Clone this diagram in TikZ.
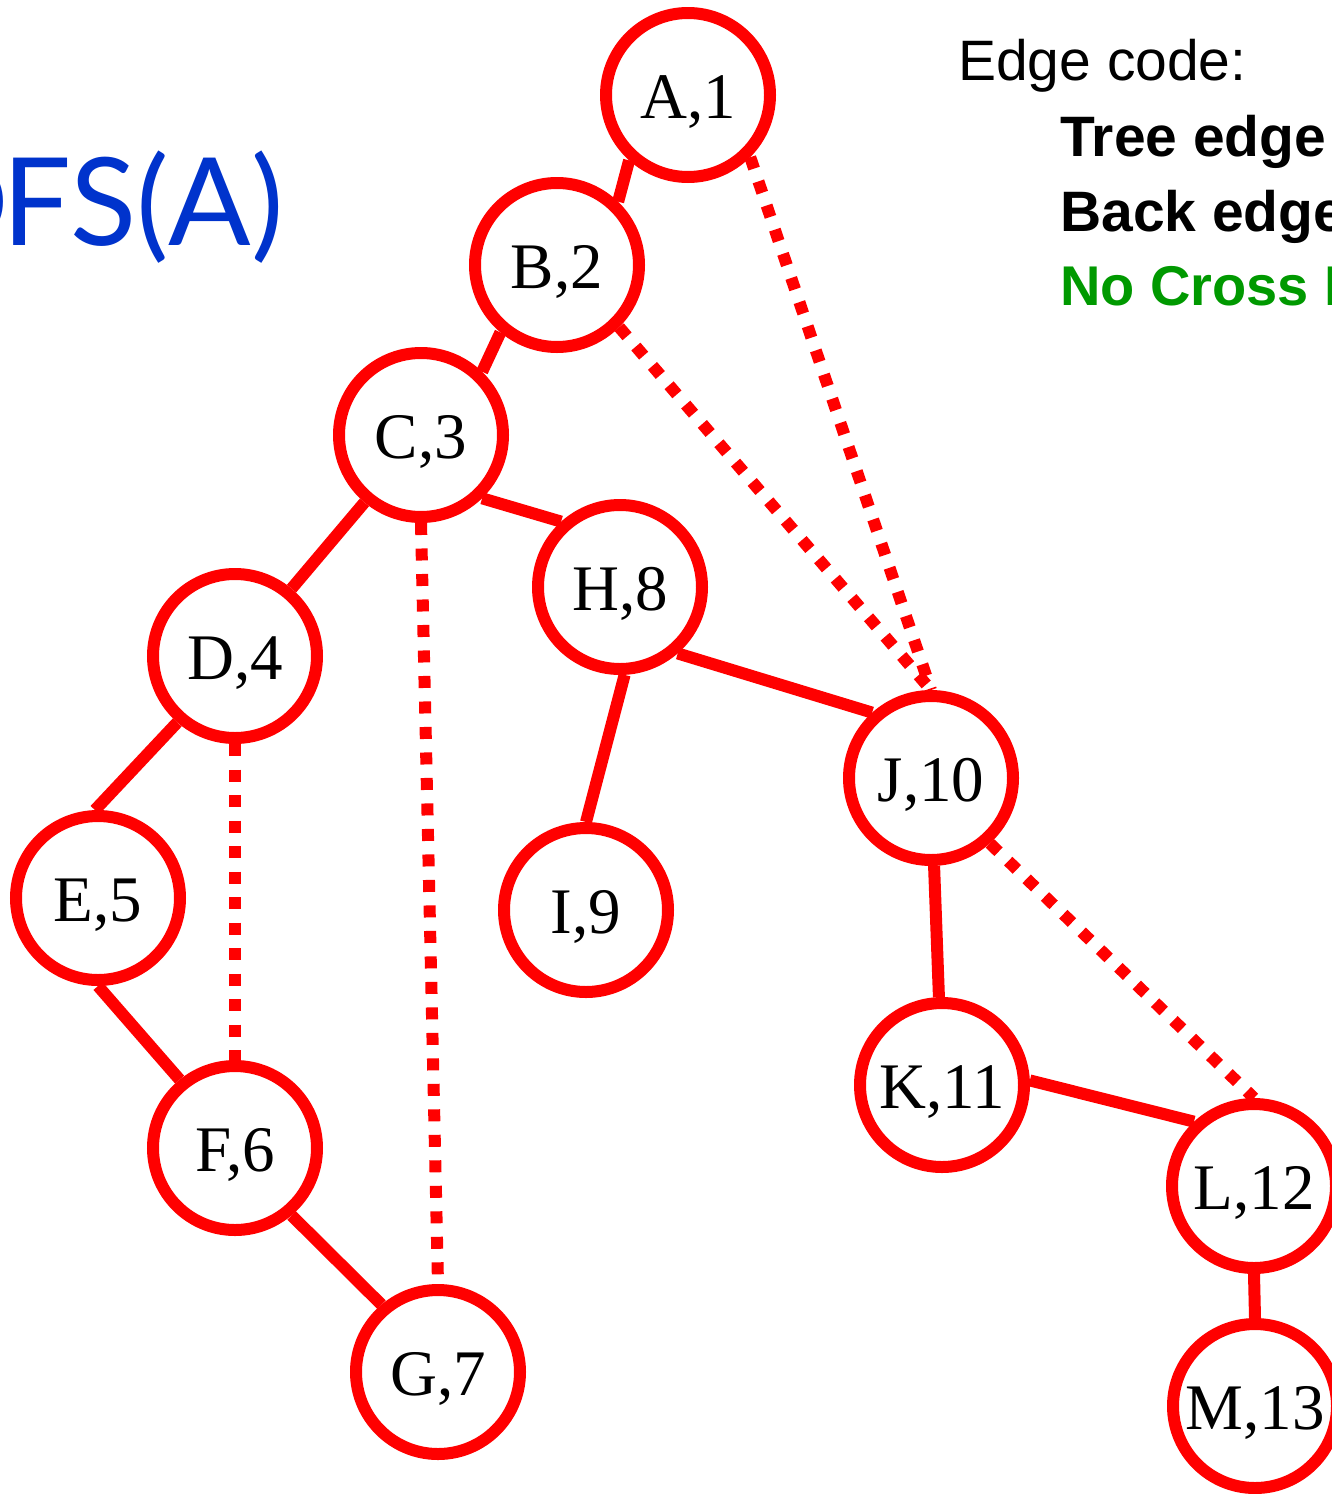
\documentclass[tikz,border=0pt]{standalone}
\usepackage{fontspec}
\setmainfont{Liberation Serif}
\newfontfamily\legendfont{Liberation Sans}
\newfontfamily\titlefont{Lato}
\definecolor{nodered}{RGB}{255,0,0}
\definecolor{titleblue}{RGB}{0,51,204}
\definecolor{legendgreen}{RGB}{0,153,0}
\begin{document}
\begin{tikzpicture}[x=1pt,y=-1pt,
  vtx/.style={circle,draw=nodered,line width=12pt,fill=white,inner sep=0pt,
    minimum size=164pt,text height=46pt,text depth=0pt,font=\fontsize{65}{65}\selectfont},
  treeedge/.style={draw=nodered,line width=12pt},
  backedge/.style={draw=nodered,line width=12pt,dash pattern=on 12pt off 13.5pt}]
\useasboundingbox[fill=white] (0,0) rectangle (1332,1494);
% title and legend
\node[anchor=base east,text=titleblue,font=\titlefont\fontsize{122}{122}\selectfont,inner sep=0pt] (title) at (284,245) {D\kern-6pt FS(A)};
\node[anchor=base west,inner sep=0pt,font=\legendfont\fontsize{57}{57}\selectfont] (lg0) at (958,80) {Edge code:};
\node[anchor=base west,inner sep=0pt,font=\legendfont\bfseries\fontsize{57}{57}\selectfont] (lg1) at (1060,156) {Tree edge};
\node[anchor=base west,inner sep=0pt,font=\legendfont\bfseries\fontsize{57}{57}\selectfont] (lg2) at (1060,231) {Back edge};
\node[anchor=base west,inner sep=0pt,text=legendgreen,font=\legendfont\bfseries\fontsize{56}{56}\selectfont] (lg3) at (1060,305) {No Cross Edges};
% node positions
\coordinate (pA) at (688,95);
\coordinate (pB) at (557,265);
\coordinate (pC) at (421,435);
\coordinate (pD) at (235,656);
\coordinate (pE) at (98,898);
\coordinate (pF) at (235,1148);
\coordinate (pG) at (438,1372);
\coordinate (pH) at (620,587);
\coordinate (pI) at (586,910);
\coordinate (pJ) at (931,778);
\coordinate (pK) at (942,1085);
\coordinate (pL) at (1254,1186);
\coordinate (pM) at (1255,1406);
% nodes
\node[vtx] (A) at (pA) {A,1};
\node[vtx] (B) at (pB) {B,2};
\node[vtx] (C) at (pC) {C,3};
\node[vtx] (D) at (pD) {D,4};
\node[vtx] (E) at (pE) {E,5};
\node[vtx] (F) at (pF) {F,6};
\node[vtx] (G) at (pG) {G,7};
\node[vtx] (H) at (pH) {H,8};
\node[vtx] (I) at (pI) {I,9};
\node[vtx] (J) at (pJ) {J,10};
\node[vtx] (K) at (pK) {K,11};
\node[vtx] (L) at (pL) {L,12};
\node[vtx] (M) at (pM) {M,13};
% tree edges
\draw[treeedge] (A.-132) -- (B.46);
\draw[treeedge] (B.-130) -- (C.46);
\draw[treeedge] (C.-130) -- (D.50);
\draw[treeedge] (D.-131) -- (E.92);
\draw[treeedge] (E.-90) -- (F.129);
\draw[treeedge] (F.-50) -- (G.130);
\draw[treeedge] (C.-46) -- (H.132);
\draw[treeedge] (H.-87) -- (I.90);
\draw[treeedge] (H.-49) -- (J.132);
\draw[treeedge] (J.-88) -- (K.92);
\draw[treeedge] (K.3) -- (L.133);
\draw[treeedge] (L.-90) -- (M.90);
% back edges
\draw[backedge] (A.-45) -- (J.north);
\draw[backedge] (B.-45) -- (J.north);
\draw[backedge] (C.south) -- (G.north);
\draw[backedge] (D.south) -- (F.north);
\draw[backedge] (J.-48) -- (L.north);
\end{tikzpicture}
\end{document}
